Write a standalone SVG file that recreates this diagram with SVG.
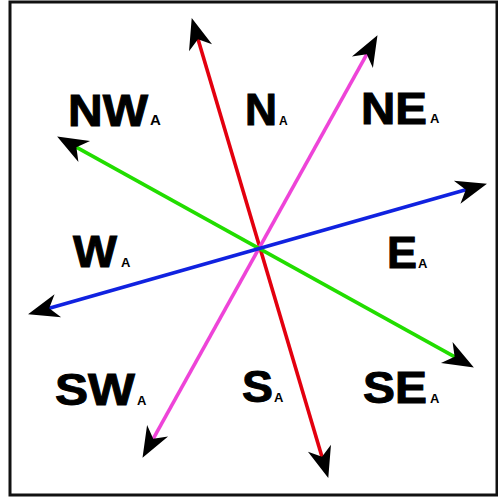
<svg xmlns="http://www.w3.org/2000/svg" width="498" height="497" viewBox="0 0 498 497">
<style>
.lbl{font-family:"Liberation Sans",Arial,sans-serif;font-weight:bold;fill:#000;stroke:#000;stroke-width:1;font-size:44px}
.sub{font-family:"Liberation Sans",Arial,sans-serif;font-weight:bold;fill:#000;font-size:13px}
.ln{stroke-width:3.6;fill:none;marker-start:url(#ah);marker-end:url(#ah)}
</style>
<defs>
<marker id="ah" markerUnits="userSpaceOnUse" markerWidth="40" markerHeight="30" refX="20" refY="0" viewBox="-2 -15 40 30" orient="auto-start-reverse" overflow="visible">
<path d="M31,0 L0,-12 L9,0 L0,12 Z" fill="#000"/>
</marker>
</defs>
<rect x="10" y="2" width="487" height="493" fill="#fff" stroke="#111" stroke-width="3"/>
<g id="connectors">
<line class="ln" x1="194.85" y1="28.59" x2="325.15" y2="467.41" stroke="#e3000e"/>
<line class="ln" x1="372.14" y1="44.74" x2="147.86" y2="448.26" stroke="#ee44d8"/>
<line class="ln" x1="66.75" y1="141.85" x2="464.25" y2="362.15" stroke="#22dd00"/>
<line class="ln" x1="38.62" y1="311.26" x2="476.38" y2="186.74" stroke="#1022e0"/>
</g>
<g id="NW"><text class="lbl" x="68" y="126" textLength="80" lengthAdjust="spacingAndGlyphs">NW</text><text class="sub" x="150" y="125" style="font-size:15px">A</text></g>
<g id="N"><text class="lbl" x="245" y="125" textLength="32" lengthAdjust="spacingAndGlyphs">N</text><text class="sub" x="279" y="125" style="font-size:12px">A</text></g>
<g id="NE"><text class="lbl" x="361" y="124" textLength="66" lengthAdjust="spacingAndGlyphs">NE</text><text class="sub" x="430" y="123">A</text></g>
<g id="W"><text class="lbl" x="73" y="267" textLength="44" lengthAdjust="spacingAndGlyphs">W</text><text class="sub" x="121" y="267">A</text></g>
<g id="E"><text class="lbl" x="387" y="268" textLength="30" lengthAdjust="spacingAndGlyphs">E</text><text class="sub" x="418" y="268">A</text></g>
<g id="SW"><text class="lbl" x="55" y="405" textLength="80" lengthAdjust="spacingAndGlyphs">SW</text><text class="sub" x="137" y="405">A</text></g>
<g id="S"><text class="lbl" x="242" y="402" textLength="31" lengthAdjust="spacingAndGlyphs">S</text><text class="sub" x="274" y="402">A</text></g>
<g id="SE"><text class="lbl" x="363" y="403" textLength="64" lengthAdjust="spacingAndGlyphs">SE</text><text class="sub" x="430" y="403">A</text></g>
</svg>
